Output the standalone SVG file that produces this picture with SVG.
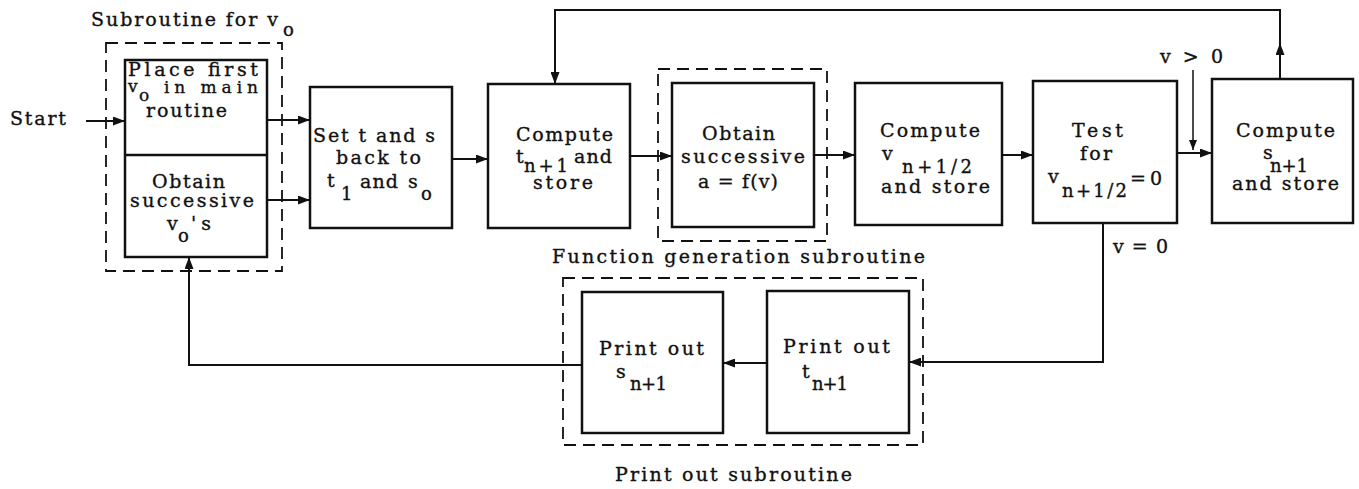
<svg xmlns="http://www.w3.org/2000/svg" width="1359" height="489" viewBox="0 0 1359 489">
<style>
.box{fill:#fff;stroke:#111;stroke-width:2.5}
.dash{fill:none;stroke:#111;stroke-width:1.8;stroke-dasharray:12 7}
.ln{fill:none;stroke:#111;stroke-width:2}
.thin{fill:none;stroke:#111;stroke-width:1.5}
text{font-family:"DejaVu Serif","Liberation Serif",serif;font-size:19px;fill:#111;stroke:#111;stroke-width:0.35}
.sub{font-size:18px}
.tight{font-size:17px}
</style>
<defs>
<marker id="ah" markerUnits="userSpaceOnUse" markerWidth="13" markerHeight="9" refX="12" refY="4.5" orient="auto"><path d="M0,0 L12,4.5 L0,9 z" fill="#111"/></marker>
<marker id="ahs" markerUnits="userSpaceOnUse" markerWidth="11" markerHeight="8" refX="10" refY="4" orient="auto"><path d="M0,0 L10,4 L0,8 z" fill="#111"/></marker>
</defs>
<rect x="0" y="0" width="1359" height="489" fill="#fff"/>

<g id="subroutine-vo">
<rect class="dash" x="106" y="43" width="176" height="228"/>
<text x="91" y="26" textLength="187" lengthAdjust="spacing">Subroutine for v</text>
<text class="sub" x="283" y="36">o</text>
</g>

<g id="function-generation-subroutine">
<rect class="dash" x="658" y="69" width="169" height="172"/>
<text x="552" y="263" textLength="373" lengthAdjust="spacing">Function generation subroutine</text>
</g>

<g id="print-out-subroutine">
<rect class="dash" x="563" y="278" width="360" height="167"/>
<text x="615" y="481" textLength="237" lengthAdjust="spacing">Print out subroutine</text>
</g>

<g id="start">
<text x="10" y="125" textLength="56" lengthAdjust="spacing">Start</text>
</g>

<g id="node-vo">
<rect class="box" x="125" y="60" width="142" height="197"/>
<line x1="125" y1="155" x2="267" y2="155" stroke="#111" stroke-width="2.5"/>
<text x="128" y="76" textLength="130" lengthAdjust="spacing">Place first</text>
<text class="tight" x="128" y="92">v</text>
<text class="tight" x="139" y="101">o</text>
<text class="tight" x="164" y="93" textLength="94" lengthAdjust="spacing">in main</text>
<text x="146" y="117" textLength="81" lengthAdjust="spacing">routine</text>
<text x="152" y="188" textLength="73" lengthAdjust="spacing">Obtain</text>
<text x="130" y="207" textLength="124" lengthAdjust="spacing">successive</text>
<text x="167" y="230">v</text>
<text class="sub" x="178" y="242">o</text>
<text x="191" y="230" textLength="20" lengthAdjust="spacing">'s</text>
</g>

<g id="node-set-ts">
<rect class="box" x="310" y="87" width="142" height="141"/>
<text x="313" y="142" textLength="122" lengthAdjust="spacing">Set t and s</text>
<text x="336" y="164" textLength="85" lengthAdjust="spacing">back to</text>
<text x="327" y="187">t</text>
<text class="sub" x="341" y="200">1</text>
<text x="360" y="188" textLength="38" lengthAdjust="spacing">and</text>
<text x="408" y="188">s</text>
<text class="sub" x="421" y="200">o</text>
</g>

<g id="node-compute-t">
<rect class="box" x="488" y="84" width="142" height="144"/>
<text x="516" y="141" textLength="97" lengthAdjust="spacing">Compute</text>
<text x="516" y="163">t</text>
<text class="sub" x="524" y="172" textLength="44" lengthAdjust="spacing">n+1</text>
<text x="574" y="163" textLength="38" lengthAdjust="spacing">and</text>
<text x="533" y="189" textLength="60" lengthAdjust="spacing">store</text>
</g>

<g id="node-obtain-a">
<rect class="box" x="672" y="83" width="142" height="144"/>
<text x="702" y="140" textLength="73" lengthAdjust="spacing">Obtain</text>
<text x="681" y="163" textLength="124" lengthAdjust="spacing">successive</text>
<text x="698" y="188" textLength="80" lengthAdjust="spacing">a = f(v)</text>
</g>

<g id="node-compute-v">
<rect class="box" x="855" y="83" width="147" height="142"/>
<text x="880" y="137" textLength="100" lengthAdjust="spacing">Compute</text>
<text x="882" y="160">v</text>
<text class="sub" x="902" y="173" textLength="70" lengthAdjust="spacing">n+1/2</text>
<text x="881" y="193" textLength="109" lengthAdjust="spacing">and store</text>
</g>

<g id="node-test">
<rect class="box" x="1033" y="81" width="144" height="142"/>
<text x="1072" y="137" textLength="51" lengthAdjust="spacing">Test</text>
<text x="1080" y="160" textLength="32" lengthAdjust="spacing">for</text>
<text x="1048" y="183">v</text>
<text class="sub" x="1062" y="197" textLength="65" lengthAdjust="spacing">n+1/2</text>
<text x="1130" y="185" textLength="32" lengthAdjust="spacing">= 0</text>
</g>

<g id="node-compute-s">
<rect class="box" x="1212" y="79" width="141" height="144"/>
<text x="1236" y="137" textLength="99" lengthAdjust="spacing">Compute</text>
<text x="1263" y="159">s</text>
<text class="sub" x="1270" y="172" textLength="38" lengthAdjust="spacing">n+1</text>
<text x="1232" y="190" textLength="107" lengthAdjust="spacing">and store</text>
</g>

<g id="node-print-s">
<rect class="box" x="582" y="292" width="141" height="141"/>
<text x="599" y="355" textLength="105" lengthAdjust="spacing">Print out</text>
<text x="616" y="378">s</text>
<text class="sub" x="630" y="390" textLength="37" lengthAdjust="spacing">n+1</text>
</g>

<g id="node-print-t">
<rect class="box" x="767" y="291" width="142" height="142"/>
<text x="783" y="353" textLength="107" lengthAdjust="spacing">Print out</text>
<text x="802" y="378">t</text>
<text class="sub" x="812" y="390" textLength="36" lengthAdjust="spacing">n+1</text>
</g>

<g id="connectors">
<path class="ln" d="M86,121 H125" marker-end="url(#ah)"/>
<path class="ln" d="M267,120 H310" marker-end="url(#ah)"/>
<path class="ln" d="M268,200 H310" marker-end="url(#ah)"/>
<path class="ln" d="M452,159 H488" marker-end="url(#ah)"/>
<path class="ln" d="M630,156 H672" marker-end="url(#ah)"/>
<path class="ln" d="M814,155 H855" marker-end="url(#ah)"/>
<path class="ln" d="M1002,155 H1033" marker-end="url(#ah)"/>
<path class="ln" d="M1177,153 H1212" marker-end="url(#ah)"/>
<path class="thin" d="M1193,70 V150" marker-end="url(#ahs)"/>
<path class="ln" d="M1280,79 V43" marker-end="url(#ah)"/>
<path class="ln" d="M1280,45 V10 H555 V84" marker-end="url(#ah)"/>
<path class="ln" d="M1103,223 V362 H909" marker-end="url(#ah)"/>
<path class="ln" d="M767,363 H723" marker-end="url(#ah)"/>
<path class="ln" d="M582,365 H189 V257" marker-end="url(#ah)"/>
<text x="1160" y="63" textLength="63" lengthAdjust="spacing">v &gt; 0</text>
<text x="1113" y="253" textLength="55" lengthAdjust="spacing">v = 0</text>
</g>
</svg>
